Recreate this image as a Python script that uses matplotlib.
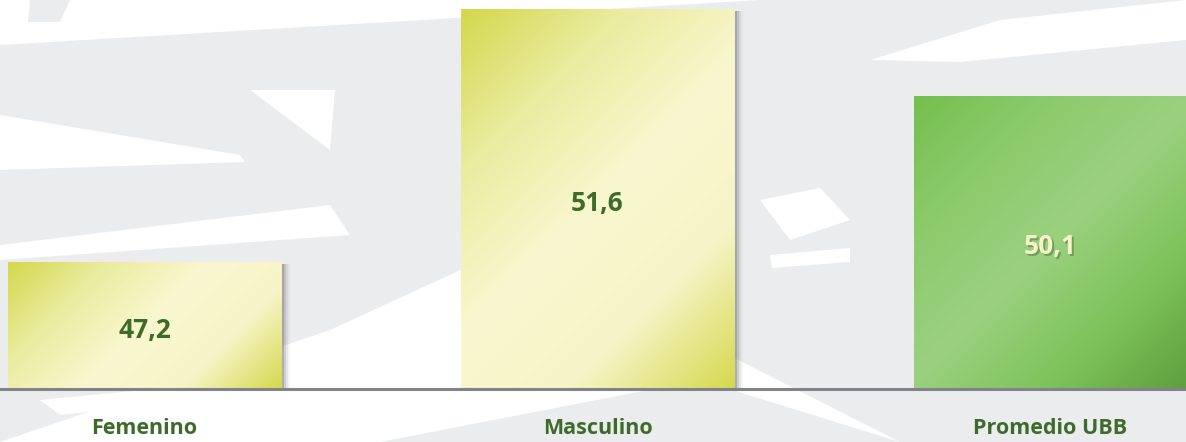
import numpy as np
import matplotlib
matplotlib.use("Agg")
import matplotlib.pyplot as plt
from matplotlib.colors import LinearSegmentedColormap
from matplotlib.patches import Polygon

categories = ["Femenino", "Masculino", "Promedio UBB"]
values = [47.2, 51.6, 50.1]
value_labels = ["47,2", "51,6", "50,1"]

plt.rcParams['font.family'] = ['Open Sans', 'DejaVu Sans']

W, H = 1186, 442
fig = plt.figure(figsize=(W / 100, H / 100), dpi=100)
fig.patch.set_facecolor('#ffffff')

# background watermark-like shapes
bg = fig.add_axes([0, 0, 1, 1], zorder=0)
bg.set_xlim(0, W); bg.set_ylim(H, 0); bg.axis('off')
gray = '#ebeced'
shapes = [
    [(0, 45), (760, 0), (1186, 0), (1186, 180), (700, 160), (330, 330), (0, 330)],
    [(0, 330), (330, 330), (0, 442)],
    [(340, 170), (720, 160), (1186, 170), (1186, 442), (900, 442), (620, 300)],
    [(0, 190), (250, 150), (420, 170), (380, 250), (0, 250)],
    [(380, 442), (700, 380), (900, 442)],
    [(30, 0), (70, 0), (60, 22), (28, 22)],
]
for s in shapes:
    bg.add_patch(Polygon(s, closed=True, facecolor=gray, edgecolor='none'))
# white streaks
whites = [
    [(0, 115), (240, 155), (245, 162), (0, 170)],
    [(0, 245), (330, 205), (350, 235), (0, 260)],
    [(250, 90), (330, 150), (335, 90)],
    [(870, 60), (1000, 20), (1186, 0), (1186, 40), (960, 62)],
    [(760, 200), (820, 188), (850, 220), (790, 240)],
    [(770, 255), (850, 248), (850, 262), (772, 268)],
    [(40, 400), (350, 370), (380, 382), (60, 415)],
    [(1186, 330), (1080, 300), (1186, 300)],
]
for s in whites:
    bg.add_patch(Polygon(s, closed=True, facecolor='#ffffff', edgecolor='none'))

ax = fig.add_axes([0, 1 - 389 / H, 1, 389 / H], zorder=2)
ax.patch.set_alpha(0)
x = np.arange(len(categories))
width = 0.603
ax.set_xlim(-0.319, 2.299)
ax.set_ylim(45, 45 + 389 / 57.5)

yellow = LinearSegmentedColormap.from_list('y', ['#d3d84c', '#eaeca0', '#f9f7cf', '#f6f4c6', '#d5d84e'])
green = LinearSegmentedColormap.from_list('g', ['#74bf4e', '#8ccb6c', '#9bd07f', '#7dc35a', '#5f9f3e'])
cmaps = [yellow, yellow, green]

bars = ax.bar(x, [v - 45 for v in values], width, bottom=45, color='none', edgecolor='none', zorder=3)

# shadows
for b in bars:
    for k, a in [(0.003, 0.35), (0.007, 0.28), (0.011, 0.18), (0.015, 0.1), (0.019, 0.05)]:
        ax.bar(b.get_x() + b.get_width() / 2 + k, b.get_height() - 0.03, b.get_width(),
               bottom=45, color='#5e6066', alpha=a, edgecolor='none', zorder=2.5)

n = 200
gx, gy = np.meshgrid(np.linspace(0, 1, n), np.linspace(0, 1, n))
for b, cm in zip(bars, cmaps):
    x0, y0 = b.get_x(), b.get_y()
    x1, y1 = x0 + b.get_width(), y0 + b.get_height()
    aspect = (b.get_height() * 57.5) / (b.get_width() * 453)
    t = (gx + (1 - gy) * aspect) / (1 + aspect)
    im = ax.imshow(t, cmap=cm, extent=[x0, x1, y0, y1], origin='lower', aspect='auto',
                   zorder=3, interpolation='bilinear')
    im.set_clip_path(b)

txt_green = '#3e6b2a'
off = 0.08
for xi, v, lab, i in zip(x, values, value_labels, range(3)):
    mid = 45 + (v - 45) / 2 - off
    if i == 2:
        ax.text(xi + 0.004, mid - 0.03, lab, ha='center', va='center', fontsize=19,
                fontweight='bold', color='#3f6b2a', alpha=0.45, zorder=5)
        ax.text(xi, mid, lab, ha='center', va='center', fontsize=19,
                fontweight='bold', color='#f6f3c9', zorder=6)
    else:
        ax.text(xi, mid, lab, ha='center', va='center', fontsize=19,
                fontweight='bold', color=txt_green, zorder=6)

ax.axhline(45, color='#828388', lw=2.2, zorder=7, clip_on=False)
ax.set_xticks(x)
ax.set_xticklabels(categories, fontsize=15.5, fontweight='bold', color=txt_green)
ax.tick_params(axis='x', length=0, pad=21)
ax.set_yticks([])
for sp in ax.spines.values():
    sp.set_visible(False)

fig.savefig('out.png', dpi=100)
